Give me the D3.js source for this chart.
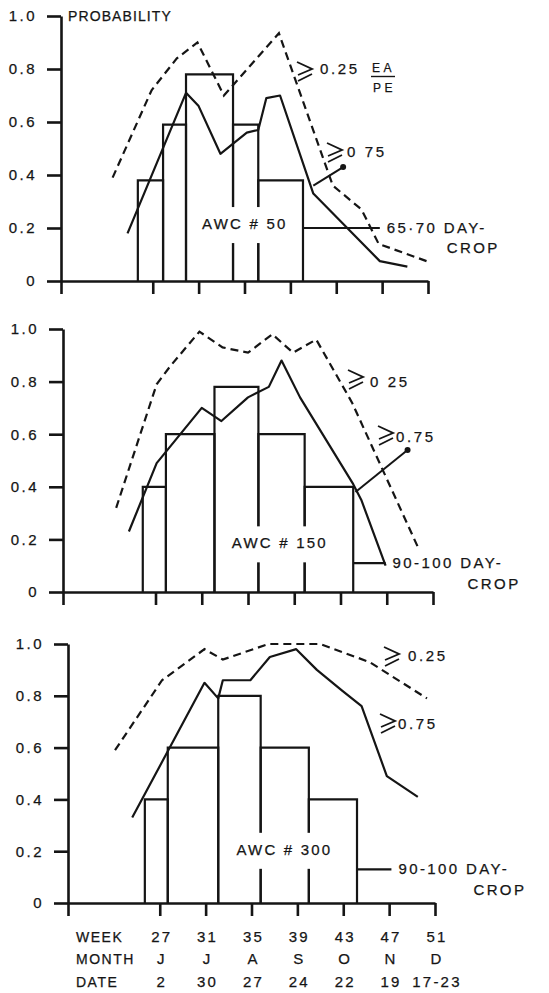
<!DOCTYPE html>
<html><head><meta charset="utf-8">
<script src="https://cdn.jsdelivr.net/npm/d3@7"></script>
<style>
html,body{margin:0;padding:0;background:#fff;}
svg text{font-family:"Liberation Sans",Arial,Helvetica,sans-serif;fill:#151515;stroke:#151515;stroke-width:0.25px;}
</style></head><body>
<svg id="chart" width="549" height="993"></svg>
<script>
// Axis ticks and the week / month / date legend under the bottom panel
const weekTicks = [19, 27, 31, 35, 39, 43, 47, 51];
const weekLabels = ["27", "31", "35", "39", "43", "47", "51"];
const labelWeeks = [27, 31, 35, 39, 43, 47, 51];
const monthLabels = ["J", "J", "A", "S", "O", "N", "D"];
const dateLabels = ["2", "30", "27", "24", "22", "19", "17-23"];
const probTicks = [0, 0.2, 0.4, 0.6, 0.8, 1.0];

// AWC 50 : crop-stage water need (bars), probability curves [week, prob]
const awc50Edges = [25.7, 27.9, 29.9, 34.0, 36.2, 40.1];
const awc50Need = [0.38, 0.59, 0.78, 0.59, 0.38];
const awc50CropEnd = 46.8, awc50CropLevel = 0.2;
const awc50P25 = [[23.5,0.39],[26.9,0.72],[29.1,0.84],[30.9,0.90],[33.2,0.70],[38.0,0.935],[42.7,0.36],[45.2,0.27],[46.7,0.14],[51.2,0.07]];
const awc50P75 = [[24.8,0.18],[29.9,0.71],[31.0,0.66],[32.9,0.48],[35.2,0.56],[36.2,0.57],[36.9,0.69],[38.1,0.70],[41.0,0.33],[46.8,0.075],[49.2,0.054]];

// AWC 150
const awc150Edges = [25.9, 27.9, 32.1, 35.9, 39.9, 44.1];
const awc150Need = [0.40, 0.60, 0.78, 0.60, 0.40];
const awc150CropEnd = 46.9, awc150CropLevel = 0.11;
const awc150P25 = [[23.6,0.32],[27.1,0.79],[28.3,0.86],[30.8,0.99],[32.8,0.93],[35.0,0.91],[37.1,0.98],[38.9,0.91],[40.9,0.96],[44.0,0.72],[49.7,0.17]];
const awc150P75 = [[24.7,0.23],[27.1,0.49],[31.0,0.70],[32.7,0.65],[35.0,0.74],[36.8,0.78],[37.9,0.88],[39.5,0.74],[44.1,0.41],[44.8,0.35],[46.9,0.10]];

// AWC 300
const awc300Edges = [25.7, 27.7, 32.1, 35.8, 40.0, 44.2];
const awc300Need = [0.40, 0.60, 0.80, 0.60, 0.40];
const awc300CropEnd = 47.2, awc300CropLevel = 0.13;
const awc300P25 = [[23.1,0.59],[27.2,0.86],[30.9,0.98],[32.5,0.94],[36.5,1.00],[41.0,1.00],[45.3,0.93],[50.3,0.79]];
const awc300P75 = [[24.6,0.33],[30.9,0.85],[32.1,0.79],[32.5,0.86],[34.9,0.86],[36.6,0.95],[38.9,0.98],[40.7,0.90],[42.9,0.82],[44.6,0.76],[46.8,0.49],[49.5,0.41]];

const INK = "#151515";
const svg = d3.select("#chart");

const panels = [
  { x0: 61, x1: 428, y0: 281, y1: 16, edges: awc50Edges, need: awc50Need,
    cropEnd: awc50CropEnd, cropLevel: awc50CropLevel, p25: awc50P25, p75: awc50P75,
    awc: "AWC  #  50", crop: "65·70 DAY-" },
  { x0: 63, x1: 433, y0: 592, y1: 329, edges: awc150Edges, need: awc150Need,
    cropEnd: awc150CropEnd, cropLevel: awc150CropLevel, p25: awc150P25, p75: awc150P75,
    awc: "AWC  #  150", crop: "90-100 DAY-" },
  { x0: 68, x1: 435, y0: 903, y1: 644, edges: awc300Edges, need: awc300Need,
    cropEnd: awc300CropEnd, cropLevel: awc300CropLevel, p25: awc300P25, p75: awc300P75,
    awc: "AWC  #  300", crop: "90-100 DAY-" }
];

// hand-drawn "greater than or equal" sign (slanted bar) used for the curve labels
function geq(g, x, y) {
  g.append("path")
    .attr("d", `M${x},${y}L${x + 15},${y + 7}L${x + 1},${y + 13}M${x + 15},${y + 12}L${x + 1},${y + 19}`)
    .attr("fill", "none").attr("stroke", INK).attr("stroke-width", 1.9)
    .attr("stroke-linejoin", "miter");
}
function txt(g, x, y, s, size, ls) {
  return g.append("text").attr("x", x).attr("y", y)
    .style("font-size", (size || 14) + "px")
    .style("letter-spacing", (ls == null ? 2 : ls) + "px").text(s);
}

panels.forEach((P, i) => {
  const xs = d3.scaleLinear().domain([19, 51]).range([P.x0, P.x1]);
  const ys = d3.scaleLinear().domain([0, 1]).range([P.y0, P.y1]);
  const g = svg.append("g");

  // axes
  const yAxis = d3.axisLeft(ys).tickValues(probTicks).tickSize(14).tickSizeOuter(0)
    .tickPadding(10).tickFormat(d => d === 0 ? "0" : d.toFixed(1));
  const xAxis = d3.axisBottom(xs).tickValues(weekTicks).tickSize(13).tickSizeOuter(0)
    .tickFormat("");
  const ya = g.append("g").attr("transform", `translate(${P.x0},0)`).call(yAxis);
  const xa = g.append("g").attr("transform", `translate(0,${P.y0})`).call(xAxis);
  [ya, xa].forEach(a => {
    a.selectAll("path,line").attr("stroke", INK).attr("stroke-width", 2.6);
    a.select(".domain").attr("stroke-width", 2.6);
  });
  ya.selectAll("text").attr("fill", INK)
    .style("font-family", "'Liberation Sans',Arial,sans-serif")
    .style("font-size", "15px").style("letter-spacing", "2.5px");

  // water-need bars (open outlines)
  const bars = g.append("g").attr("fill", "none").attr("stroke", INK).attr("stroke-width", 2.2);
  P.need.forEach((v, k) => {
    const a = xs(P.edges[k]), b = xs(P.edges[k + 1]);
    bars.append("path").attr("d", `M${a},${ys(0)}V${ys(v)}H${b}V${ys(0)}`);
  });
  const last = P.edges[P.edges.length - 1];
  bars.append("path").attr("d", `M${xs(last)},${ys(P.cropLevel)}H${xs(P.cropEnd)}`);

  // knock-out behind the AWC label
  const lx = xs(31.3 + (i ? 2.3 : 0)) - (i === 2 ? -1 : 0);
  const ly = ys(0.196 + (i === 1 ? -0.03 : 0) + (i === 2 ? -0.01 : 0));
  g.append("rect").attr("x", lx - 3).attr("y", ly - 22).attr("width", 100).attr("height", 36)
    .attr("fill", "#fff");
  txt(g, lx, ly, P.awc, 15, 2.2);

  // probability curves
  const line = d3.line().x(d => xs(d[0])).y(d => ys(d[1]));
  g.append("path").datum(P.p25).attr("d", line).attr("fill", "none")
    .attr("stroke", INK).attr("stroke-width", 2.2).attr("stroke-dasharray", "8,5");
  g.append("path").datum(P.p75).attr("d", line).attr("fill", "none")
    .attr("stroke", INK).attr("stroke-width", 2.2).attr("stroke-linejoin", "round");

  // crop label
  txt(g, xs(P.cropEnd) + 7, ys(P.cropLevel) + 5, P.crop, 15, 2.4);
  txt(g, xs(P.cropEnd) + (i ? 82 : 67), ys(P.cropLevel) + (i ? 26 : 25), "CROP", 15, 2.4);

  if (i === 0) {
    txt(g, P.x0 + 7, ys(1) + 5, "PROBABILITY", 14, 1.1);
    geq(g, 297, 62);
    txt(g, 320, 74, "0.25", 15, 2.6);
    txt(g, 372, 72, "EA", 12, 3.5);
    g.append("line").attr("x1", 371).attr("x2", 395).attr("y1", 76.5).attr("y2", 76.5)
      .attr("stroke", INK).attr("stroke-width", 1.4);
    txt(g, 373, 92, "PE", 12, 3.5);
    geq(g, 327, 143);
    txt(g, 347, 157, "0 75", 15, 2.6);
    g.append("line").attr("x1", xs(41.0)).attr("y1", ys(0.36)).attr("x2", xs(43.6)).attr("y2", ys(0.43))
      .attr("stroke", INK).attr("stroke-width", 2);
    g.append("circle").attr("cx", xs(43.6)).attr("cy", ys(0.43)).attr("r", 3).attr("fill", INK);
  } else if (i === 1) {
    geq(g, 348, 370);
    txt(g, 370, 387, "0 25", 15, 2.6);
    geq(g, 378, 426);
    txt(g, 396, 442, "0.75", 15, 2.6);
    g.append("line").attr("x1", xs(44.3)).attr("y1", ys(0.38)).attr("x2", xs(48.8)).attr("y2", ys(0.54))
      .attr("stroke", INK).attr("stroke-width", 2);
    g.append("circle").attr("cx", xs(48.8)).attr("cy", ys(0.54)).attr("r", 3).attr("fill", INK);
  } else {
    geq(g, 384, 647);
    txt(g, 408, 661, "0.25", 15, 2.6);
    geq(g, 380, 714);
    txt(g, 398, 729, "0.75", 15, 2.6);

    // week / month / date legend
    const rows = [["WEEK", weekLabels, 942], ["MONTH", monthLabels, 964], ["DATE", dateLabels, 987]];
    rows.forEach(([name, vals, y]) => {
      txt(g, 76, y, name, 14, 1.5);
      vals.forEach((v, k) => {
        txt(g, xs(labelWeeks[k]) + 2, y, v, 15, 2.2).attr("text-anchor", "middle");
      });
    });
  }
});
</script>
</body></html>
